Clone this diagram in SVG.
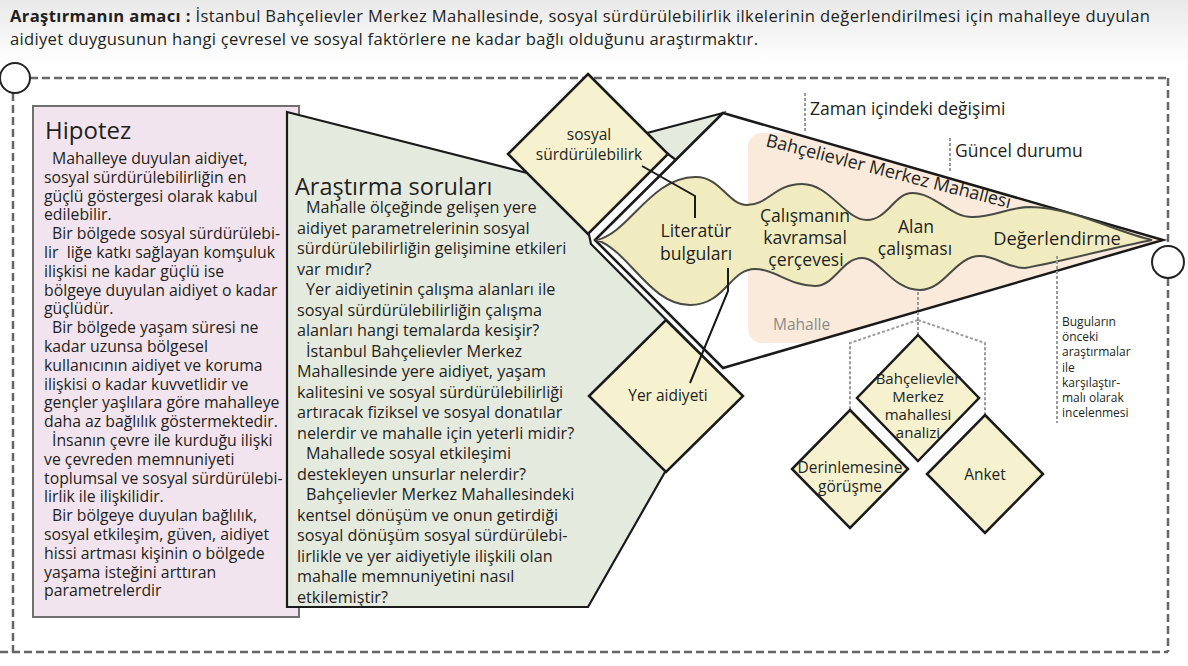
<svg xmlns="http://www.w3.org/2000/svg" width="1188" height="666" viewBox="0 0 1188 666">
<defs>
<linearGradient id="hdr" x1="0" y1="0" x2="0" y2="1"><stop offset="0" stop-color="#e9e9e9"/><stop offset="1" stop-color="#ffffff"/></linearGradient>
<clipPath id="kiteClip"><polygon points="595,240 723,113 1163,240 723,368"/></clipPath>
</defs>
<style>
text{font-family:"Open Sans","Noto Sans","DejaVu Sans",sans-serif;fill:#231f20}
.b{font-size:15.5px}
.hb{font-size:15.8px}
.gb{font-size:16.2px}
.h{font-size:24px}
.c{text-anchor:middle}
.w{font-size:17.6px}
.dm{fill:#f6f1cf;stroke:#1a1a1a;stroke-width:2.5}
.ln{fill:none;stroke:#1a1a1a;stroke-width:2}
.gd{fill:none;stroke:#9a9a9a;stroke-width:2;stroke-dasharray:3 2}
.fr{fill:none;stroke:#666;stroke-width:2.5;stroke-dasharray:8 4}
.an{font-size:17.5px}
.sm{font-size:12px}
</style>
<rect x="0" y="0" width="1188" height="666" fill="#fff"/>
<rect x="0" y="0" width="1188" height="64" fill="url(#hdr)"/>

<g id="header">
<text x="10" y="22" font-size="16.6" textLength="1140" lengthAdjust="spacing"><tspan font-weight="bold">Araştırmanın amacı :</tspan> İstanbul Bahçelievler Merkez Mahallesinde, sosyal sürdürülebilirlik ilkelerinin değerlendirilmesi için mahalleye duyulan</text>
<text x="10" y="45" font-size="16.6" textLength="748" lengthAdjust="spacing">aidiyet duygusunun hangi çevresel ve sosyal faktörlere ne kadar bağlı olduğunu araştırmaktır.</text>
</g>

<g id="frame">
<line x1="30" y1="78" x2="1168" y2="78" class="fr" stroke-width="2" stroke="#777"/>
<line x1="1168" y1="78" x2="1168" y2="246" class="fr"/>
<line x1="1168" y1="278" x2="1168" y2="652" class="fr"/>
<line x1="13" y1="93" x2="13" y2="652" class="fr"/>
<line x1="0" y1="652" x2="1168" y2="652" class="fr" stroke-dasharray="12 5"/>
<circle cx="15" cy="78" r="15" fill="#fff" stroke="#222" stroke-width="2"/>
<circle cx="1168" cy="262" r="16" fill="#fff" stroke="#222" stroke-width="2"/>
</g>

<g id="hipotez">
<rect x="33" y="106" width="266" height="511" fill="#f2e4ee" stroke="#707070" stroke-width="2"/>
<text x="45" y="139" class="h">Hipotez</text>
<text class="hb">
<tspan x="52" y="164">Mahalleye duyulan aidiyet,</tspan>
<tspan x="44" y="182.8">sosyal sürdürülebilirliğin en</tspan>
<tspan x="44" y="201.6">güçlü göstergesi olarak kabul</tspan>
<tspan x="44" y="220.4">edilebilir.</tspan>
<tspan x="52" y="239.2">Bir bölgede sosyal sürdürülebi-</tspan>
<tspan x="44" y="258">lir&#160; liğe katkı sağlayan komşuluk</tspan>
<tspan x="44" y="276.8">ilişkisi ne kadar güçlü ise</tspan>
<tspan x="44" y="295.6">bölgeye duyulan aidiyet o kadar</tspan>
<tspan x="44" y="314.4">güçlüdür.</tspan>
<tspan x="52" y="333.2">Bir bölgede yaşam süresi ne</tspan>
<tspan x="44" y="352">kadar uzunsa bölgesel</tspan>
<tspan x="44" y="370.8">kullanıcının aidiyet ve koruma</tspan>
<tspan x="44" y="389.6">ilişkisi o kadar kuvvetlidir ve</tspan>
<tspan x="44" y="408.4">gençler yaşlılara göre mahalleye</tspan>
<tspan x="44" y="427.2">daha az bağlılık göstermektedir.</tspan>
<tspan x="52" y="446">İnsanın çevre ile kurduğu ilişki</tspan>
<tspan x="44" y="464.8">ve çevreden memnuniyeti</tspan>
<tspan x="44" y="483.6">toplumsal ve sosyal sürdürülebi-</tspan>
<tspan x="44" y="502.4">lirlik ile ilişkilidir.</tspan>
<tspan x="52" y="521.2">Bir bölgeye duyulan bağlılık,</tspan>
<tspan x="44" y="540">sosyal etkileşim, güven, aidiyet</tspan>
<tspan x="44" y="558.8">hissi artması kişinin o bölgede</tspan>
<tspan x="44" y="577.6">yaşama isteğini arttıran</tspan>
<tspan x="44" y="596.4">parametrelerdir</tspan>
</text>
</g>

<g id="arastirma">
<polygon points="287,112 527,173 600,160 647,133 723,113 676,160 668,154 620,195 588,230 591,244 716,370 665,472 588,607 287,607" fill="#e5eadf" stroke="#1a1a1a" stroke-width="2.2" stroke-linejoin="miter"/>
<text x="295" y="195" font-size="23.5px">Araştırma soruları</text>
<text class="gb">
<tspan x="306" y="213">Mahalle ölçeğinde gelişen yere</tspan>
<tspan x="297" y="233.5">aidiyet parametrelerinin sosyal</tspan>
<tspan x="297" y="254">sürdürülebilirliğin gelişimine etkileri</tspan>
<tspan x="297" y="274.5">var mıdır?</tspan>
<tspan x="306" y="295">Yer aidiyetinin çalışma alanları ile</tspan>
<tspan x="297" y="315.5">sosyal sürdürülebilirliğin çalışma</tspan>
<tspan x="297" y="336">alanları hangi temalarda kesişir?</tspan>
<tspan x="306" y="356.5">İstanbul Bahçelievler Merkez</tspan>
<tspan x="297" y="377">Mahallesinde yere aidiyet, yaşam</tspan>
<tspan x="297" y="397.5">kalitesini ve sosyal sürdürülebilirliği</tspan>
<tspan x="297" y="418">artıracak fiziksel ve sosyal donatılar</tspan>
<tspan x="297" y="438.5">nelerdir ve mahalle için yeterli midir?</tspan>
<tspan x="306" y="459">Mahallede sosyal etkileşimi</tspan>
<tspan x="297" y="479.5">destekleyen unsurlar nelerdir?</tspan>
<tspan x="306" y="500">Bahçelievler Merkez Mahallesindeki</tspan>
<tspan x="297" y="520.5">kentsel dönüşüm ve onun getirdiği</tspan>
<tspan x="297" y="541">sosyal dönüşüm sosyal sürdürülebi-</tspan>
<tspan x="297" y="561.5">lirlikle ve yer aidiyetiyle ilişkili olan</tspan>
<tspan x="297" y="582">mahalle memnuniyetini nasıl</tspan>
<tspan x="297" y="602.5">etkilemiştir?</tspan>
</text>
</g>

<g id="mahalle">
<polygon points="595,240 723,113 1163,240 723,368" fill="#fff"/>
<rect x="748" y="133" width="520" height="210" rx="14" fill="#f9eadb" clip-path="url(#kiteClip)"/>
<polygon points="595,240 723,113 1163,240 723,368" fill="none" stroke="#1a1a1a" stroke-width="2.5"/>
<text x="773" y="330" font-size="15.5px" style="fill:#8a8a8a">Mahalle</text>
<text transform="translate(765,146) rotate(14.3)" font-size="18px">Bahçelievler Merkez Mahallesi</text>
</g>

<g id="surec">
<path d="M597,240 C630,232 650,178 695,177 C720,176 728,205 747,205 C768,205 775,184 802,184 C830,184 845,220 867,220 C887,220 895,193 912,193 C935,193 950,217 972,217 C995,217 1008,207 1030,207 C1075,208 1115,232 1152,240 C1115,247 1060,262 1025,268 C1005,268 998,256 980,256 C955,256 945,290 920,290 C892,290 880,258 862,258 C842,258 835,286 815,286 C790,286 775,269 755,269 C730,269 725,305 690,305 C650,305 630,252 597,240 Z" fill="#f1ecc0" stroke="#4a4a44" stroke-width="2"/>
<text class="c w"><tspan x="696" y="237">Literatür</tspan><tspan x="696" y="260">bulguları</tspan></text>
<text class="c w"><tspan x="805" y="222">Çalışmanın</tspan><tspan x="805" y="244">kavramsal</tspan><tspan x="806" y="266">çerçevesi</tspan></text>
<text class="c w"><tspan x="916" y="233">Alan</tspan><tspan x="915" y="255">çalışması</tspan></text>
<text class="c" font-size="18.3px" x="1057" y="245">Değerlendirme</text>
</g>

<g id="sosyal">
<polygon points="588,74 668,154 588,234 508,154" class="dm"/>
<text class="c b"><tspan x="589" y="140">sosyal</tspan><tspan x="589" y="160">sürdürülebilirk</tspan></text>
</g>

<g id="yer">
<polygon points="666,320 743,396 666,472 589,396" class="dm"/>
<text class="c b" x="668" y="401">Yer aidiyeti</text>
</g>

<g id="connectors">
<polyline points="642,166 695,196 695,218" class="ln"/>
<polyline points="728,268 728,291 690,383" class="ln"/>
<line x1="805" y1="93" x2="805" y2="132" class="gd"/>
<line x1="950" y1="138" x2="950" y2="173" class="gd"/>
<line x1="1057" y1="256" x2="1057" y2="423" class="gd"/>
<line x1="918" y1="292" x2="918" y2="335" class="gd"/>
<polyline points="918,320 850,343 850,410" class="gd"/>
<polyline points="918,320 985,343 985,415" class="gd"/>
</g>

<g id="notes">
<text x="810" y="115" class="an">Zaman içindeki değişimi</text>
<text x="955" y="157" class="an">Güncel durumu</text>
<text class="sm">
<tspan x="1062" y="326">Buguların</tspan>
<tspan x="1062" y="341.2">önceki</tspan>
<tspan x="1062" y="356.4">araştırmalar</tspan>
<tspan x="1062" y="371.6">ile</tspan>
<tspan x="1062" y="386.8">karşılaştır-</tspan>
<tspan x="1062" y="402">malı olarak</tspan>
<tspan x="1062" y="417.2">incelenmesi</tspan>
</text>
</g>

<g id="bmm">
<polygon points="918,335 979,398 918,461 857,398" class="dm"/>
<text class="c" font-size="15px"><tspan x="918" y="384">Bahçelievler</tspan><tspan x="918" y="402">Merkez</tspan><tspan x="918" y="420">mahallesi</tspan><tspan x="918" y="438">analizi</tspan></text>
</g>

<g id="derinlemesine">
<polygon points="850,410 908,469 850,528 792,469" class="dm"/>
<text class="c b"><tspan x="850" y="473">Derinlemesine</tspan><tspan x="850" y="492">görüşme</tspan></text>
</g>

<g id="anket">
<polygon points="985,415 1043,474 985,533 927,474" class="dm"/>
<text class="c b" x="985" y="480">Anket</text>
</g>
</svg>
